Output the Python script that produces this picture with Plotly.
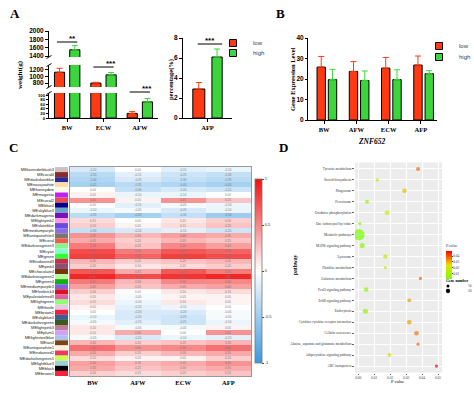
import plotly.graph_objects as go

W, H = 474, 393
def px(x): return x / W
def py(y): return 1 - y / H

RED = "#ff3a12"
GREEN = "#3cd63c"
SERIF = "Liberation Serif"
SANS = "Liberation Sans"

# ---------------- data ----------------
a_cats = ["BW", "ECW", "AFW"]
a_low = [1130, 800, 20]
a_high = [1550, 1050, 70]
a_low_err = [120, 22, 8]
a_high_err = [100, 70, 15]
a_sig = ["**", "***", "***"]

afp_cats = ["AFP"]
afp_low = [2.9]
afp_high = [6.1]
afp_low_err = [0.65]
afp_high_err = [0.8]
afp_sig = ["***"]

b_cats = ["BW", "AFW", "ECW", "AFP"]
b_low = [25.8, 23.7, 25.3, 26.8]
b_high = [19.7, 19.3, 19.7, 22.6]
b_low_err = [5.2, 4.8, 5.2, 4.4]
b_high_err = [5.0, 4.6, 4.8, 1.5]

modules = ["MElavenderblush3", "MEcoral4", "MEdarkslateblue", "MEnavajowhite", "MEhoneydew",
           "MEmagenta", "MEcoral2", "MEblue4", "MEskyblue3", "MEdarkmagenta", "MElightpink2",
           "MEslateblue", "MEmediumpurple", "MEantiquewhite4", "MEcoral", "MEdarkseagreen3",
           "MEcyan", "MEgreen", "MEindianred3", "MEpink4", "MEchocolate4", "MEdarkseagreen2",
           "MEgreen4", "MEmediumpurple3", "MEfirebrick3", "MEpalevioletred3", "MElightgreen",
           "MEthistle", "MEbrown2", "MEskyblue4", "MEdarkolivegreen", "MElightpink3", "MEplum1",
           "MElightsteelblue", "MEtan4", "MEantiquewhite1", "MEindianred2", "MEdarkolivegreen1",
           "MElightblue3", "MEblack", "MEbrown1"]
hm_cols = ["BW", "AFW", "ECW", "AFP"]
corr_bw = [-0.2, -0.35, -0.4, -0.45, 0.0, 0.05, 0.45, 0.0, -0.1, -0.35, 0.15, 0.2, -0.3, 0.45,
           0.35, 0.55, 0.75, 0.8, 0.3, 0.2, 0.7, 0.9, 0.55, 0.4, 0.2, 0.1, 0.15, 0.05, 0.0, -0.1,
           -0.05, 0.1, 0.1, -0.05, 0.3, 0.6, 0.35, 0.15, 0.4, 0.35, 0.2]
corr_afw = [0.0, -0.15, -0.2, -0.35, -0.3, -0.1, 0.05, -0.15, -0.05, -0.45, 0.0, 0.05, -0.2, 0.3,
            0.2, 0.25, 0.55, 0.65, 0.2, 0.1, 0.35, 0.75, 0.3, 0.25, 0.0, -0.05, -0.1, -0.15, -0.2,
            -0.2, -0.15, -0.05, 0.35, -0.2, 0.2, 0.45, 0.2, 0.05, 0.3, 0.25, 0.15]
corr_ecw = [-0.15, -0.25, -0.3, -0.4, -0.2, -0.1, 0.45, -0.05, -0.2, -0.3, 0.1, 0.15, -0.15, 0.4,
            0.3, 0.5, 0.7, 0.8, 0.25, 0.15, 0.7, 0.85, 0.5, 0.35, 0.1, 0.05, 0.1, -0.1, -0.2,
            -0.25, -0.25, -0.05, 0.0, -0.1, 0.25, 0.5, 0.3, 0.05, 0.35, 0.3, 0.2]
corr_afp = [-0.1, -0.3, -0.35, -0.45, -0.25, 0.0, 0.25, -0.1, -0.1, -0.5, 0.2, 0.25, -0.25, 0.35,
            0.25, 0.4, 0.65, 0.75, 0.3, 0.2, 0.55, 0.9, 0.5, 0.4, 0.15, 0.05, 0.05, 0.0, -0.05,
            -0.05, -0.1, 0.05, 0.45, -0.15, 0.3, 0.6, 0.35, 0.2, 0.45, 0.35, 0.25]

pathways = ["Tyrosine metabolism", "Steroid biosynthesis", "Phagosome", "Peroxisome",
            "Oxidative phosphorylation", "One carbon pool by folate", "Metabolic pathways",
            "MAPK signaling pathway", "Lysosome", "Histidine metabolism", "Galactose metabolism",
            "FoxO signaling pathway", "ErbB signaling pathway", "Endocytosis",
            "Cytokine-cytokine receptor interaction", "Cellular senescence",
            "Alanine, aspartate and glutamate metabolism", "Adipocytokine signaling pathway",
            "ABC transporters"]
pvals = [0.0375, 0.012, 0.029, 0.0055, 0.018, 0.001, 0.0005, 0.0025, 0.017, 0.017, 0.039,
         0.005, 0.032, 0.0045, 0.032, 0.0365, 0.0375, 0.0195, 0.049]
gene_num = [3, 2, 4, 3, 4, 2, 25, 5, 4, 2, 2, 4, 3, 5, 4, 4, 2, 3, 2]
gene_legend = [10, 20]

# module colour names -> hex (style mapping)
MODCOL = {"lavenderblush3": "#cdc1c5", "coral4": "#8b2a2a", "darkslateblue": "#2a2a9b",
          "navajowhite": "#ffdead", "honeydew": "#fffbe0", "magenta": "#c21fff", "coral2": "#ee4a50",
          "blue4": "#00008b", "skyblue3": "#6ca6cd", "darkmagenta": "#7a10c0", "lightpink2": "#ff9ad5",
          "slateblue": "#6a4ae0", "mediumpurple": "#8a6cf0", "antiquewhite4": "#7f7370",
          "coral": "#f05a4a", "darkseagreen3": "#8cf08c", "cyan": "#80ffd0", "green": "#30ff30",
          "indianred3": "#c53050", "pink4": "#8b5070", "chocolate4": "#7a3410",
          "darkseagreen2": "#b4ff9a", "green4": "#10b010", "mediumpurple3": "#8060e0",
          "firebrick3": "#e01020", "palevioletred3": "#e060a0", "lightgreen": "#90ff70",
          "thistle": "#e8c8e8", "brown2": "#ee2040", "skyblue4": "#3a6090",
          "darkolivegreen": "#3a5a20", "lightpink3": "#c08090", "plum1": "#d0a0ff",
          "lightsteelblue": "#b0c0f0", "tan4": "#7a4510", "antiquewhite1": "#fff0e0",
          "indianred2": "#f03a5a", "darkolivegreen1": "#c8ff50", "lightblue3": "#9ad0d8",
          "black": "#000000", "brown1": "#ff2040"}
strip_colors = [MODCOL[m[2:]] for m in modules]

GENE_SIZEREF = 25 / 64.0

fig = go.Figure()

def err(arr, col):
    return dict(type="data", array=arr, arrayminus=[0] * len(arr), symmetric=False,
                color=col, thickness=1, width=3)

# ---------------- Panel A (broken axis) ----------------
for yax in ["y", "y2", "y3"]:
    fig.add_trace(go.Bar(x=a_cats, y=a_low, xaxis="x", yaxis=yax, width=0.28, offset=-0.35,
                         marker=dict(color=RED, line=dict(color="black", width=1)),
                         error_y=err(a_low_err, RED), showlegend=False))
    fig.add_trace(go.Bar(x=a_cats, y=a_high, xaxis="x", yaxis=yax, width=0.28, offset=0.07,
                         marker=dict(color=GREEN, line=dict(color="black", width=1)),
                         error_y=err(a_high_err, GREEN), showlegend=False))

# AFP
fig.add_trace(go.Bar(x=afp_cats, y=afp_low, xaxis="x4", yaxis="y4", width=0.245, offset=-0.3,
                     marker=dict(color=RED, line=dict(color="black", width=1)),
                     error_y=err(afp_low_err, RED), showlegend=False))
fig.add_trace(go.Bar(x=afp_cats, y=afp_high, xaxis="x4", yaxis="y4", width=0.21, offset=0.09,
                     marker=dict(color=GREEN, line=dict(color="black", width=1)),
                     error_y=err(afp_high_err, GREEN), showlegend=False))

# ---------------- Panel B ----------------
fig.add_trace(go.Bar(x=b_cats, y=b_low, xaxis="x5", yaxis="y5", width=0.26, offset=-0.22,
                     marker=dict(color=RED, line=dict(color="black", width=1)),
                     error_y=err(b_low_err, RED), showlegend=False))
fig.add_trace(go.Bar(x=b_cats, y=b_high, xaxis="x5", yaxis="y5", width=0.26, offset=0.13,
                     marker=dict(color=GREEN, line=dict(color="black", width=1)),
                     error_y=err(b_high_err, GREEN), showlegend=False))

# legend entries (one legend per entry to control spacing)
for lg, xa, ya, cat, nm, col in [("legend", "x4", "y4", afp_cats[0], "low", RED),
                                 ("legend4", "x4", "y4", afp_cats[0], "high", GREEN),
                                 ("legend2", "x5", "y5", b_cats[0], "low", RED),
                                 ("legend5", "x5", "y5", b_cats[0], "high", GREEN)]:
    fig.add_trace(go.Scatter(x=[cat], y=[0], xaxis=xa, yaxis=ya, mode="markers", name=nm,
                             legend=lg, hoverinfo="skip",
                             marker=dict(symbol="square", size=7, color=col,
                                         line=dict(color="black", width=1)),
                             selectedpoints=[], unselected=dict(marker=dict(opacity=0))))

# ---------------- Panel C heatmap ----------------
z = [[corr_bw[i], corr_afw[i], corr_ecw[i], corr_afp[i]] for i in range(len(modules))]
fig.add_trace(go.Bar(x=[1] * len(modules), y=modules, orientation="h", width=1,
                     marker=dict(color=strip_colors, line=dict(width=0)),
                     xaxis="x6", yaxis="y6", showlegend=False))
fig.add_trace(go.Heatmap(z=z, x=hm_cols, y=modules, xaxis="x7", yaxis="y7", zmin=-1, zmax=1,
                         colorscale=[[0, "#3a98e0"], [0.5, "#ffffff"], [1, "#ee1010"]],
                         texttemplate="%{z:.2f}", textfont=dict(size=3, color="#777", family=SANS),
                         colorbar=dict(x=px(255), xanchor="left", y=py(271), yanchor="middle",
                                       len=184 / H, thickness=7, xpad=0, ypad=0,
                                       outlinewidth=0.8, outlinecolor="#777", ticks="outside",
                                       ticklen=2, tickvals=[-1, -0.5, 0, 0.5, 1],
                                       ticktext=["-1", "-0.5", "0", "0.5", "1"],
                                       tickfont=dict(size=4, family=SANS, color="#333"))))

# ---------------- Panel D dot plot ----------------
fig.add_trace(go.Scatter(x=pvals, y=pathways, xaxis="x8", yaxis="y8", mode="markers",
                         showlegend=False,
                         marker=dict(size=gene_num, sizemode="area", sizeref=GENE_SIZEREF,
                                     sizemin=1.5, color=pvals, cmin=0.0005, cmax=0.049,
                                     colorscale=[[0, "#7cfc00"], [0.5, "#e8e000"], [1, "#ff0000"]],
                                     line=dict(width=0),
                                     colorbar=dict(x=px(446), xanchor="left", y=py(241),
                                                   yanchor="top", len=38 / H, thickness=6,
                                                   xpad=0, ypad=0, outlinewidth=0,
                                                   title=dict(text="P.value", side="top",
                                                              font=dict(size=4, family=SERIF)),
                                                   tickvals=[0.01, 0.02, 0.03, 0.04],
                                                   ticktext=["0.01", "0.02", "0.03", "0.04"],
                                                   ticklen=1,
                                                   tickfont=dict(size=3.5, family=SERIF)))))
for lg, g in zip(["legend3", "legend6"], gene_legend):
    fig.add_trace(go.Scatter(x=[pvals[0]], y=[pathways[0]], xaxis="x8", yaxis="y8",
                             mode="markers", name=str(g), legend=lg, hoverinfo="skip",
                             marker=dict(size=(g / GENE_SIZEREF) ** 0.5 * 0.6, color="black"),
                             selectedpoints=[], unselected=dict(marker=dict(opacity=0))))

# ---------------- axes ----------------
tickf = dict(size=6.5, family=SANS, color="black", weight="bold")
ax_common = dict(showline=True, linecolor="black", linewidth=1, ticks="outside", ticklen=3,
                 tickcolor="black", showgrid=False, zeroline=False, tickfont=tickf)
xcat_font = dict(size=6.5, family=SERIF, color="black", weight="bold")

def leg(x, y, size=6, family=SANS):
    return dict(x=px(x), y=py(y), xanchor="left", yanchor="middle", bgcolor="rgba(0,0,0,0)",
                font=dict(size=size, family=family), tracegroupgap=0, itemwidth=30,
                itemsizing="trace")

layout = dict(
    width=W, height=H, margin=dict(l=0, r=0, t=0, b=0, autoexpand=False),
    paper_bgcolor="white", plot_bgcolor="rgba(0,0,0,0)", barmode="overlay",
    font=dict(family=SANS),
    xaxis=dict(domain=[px(49), px(158)], anchor="y", range=[-0.5, 2.5],
               **{**ax_common, "tickfont": xcat_font}),
    yaxis=dict(domain=[py(118), py(93)], anchor="x", range=[0, 108.7],
               tickvals=[0, 20, 40, 60, 80, 100],
               **{**ax_common, "ticklen": 2,
                  "tickfont": dict(size=4.3, family=SANS, color="black", weight="bold")}),
    yaxis2=dict(domain=[py(87), py(65)], anchor="x", range=[680, 1350],
                tickvals=[800, 1000, 1200], **ax_common),
    yaxis3=dict(domain=[py(57), py(31)], anchor="x", range=[1376, 2000],
                tickvals=[1400, 1600, 1800, 2000], **ax_common),
    xaxis4=dict(domain=[px(183), px(232)], anchor="y4", range=[-0.5, 0.5],
                **{**ax_common, "tickfont": xcat_font}),
    yaxis4=dict(domain=[py(118), py(38)], anchor="x4", range=[0, 8],
                tickvals=[0, 2, 4, 6, 8], **ax_common),
    xaxis5=dict(domain=[px(308), px(437)], anchor="y5", range=[-0.5, 3.5],
                **{**ax_common, "tickfont": xcat_font}),
    yaxis5=dict(domain=[py(120), py(38)], anchor="x5", range=[0, 40],
                tickvals=[0, 10, 20, 30, 40], **{**ax_common, "ticklen": 2}),
    xaxis6=dict(domain=[px(55), px(68)], anchor="y6", range=[0, 1], showticklabels=False,
                showline=False, showgrid=False, zeroline=False, ticks=""),
    yaxis6=dict(domain=[py(376), py(167)], anchor="x6", type="category", categoryorder="array",
                categoryarray=modules, range=[len(modules) - 0.5, -0.5], showline=False,
                ticks="", showgrid=False, zeroline=False,
                tickfont=dict(size=4, family=SANS, color="#222")),
    xaxis7=dict(domain=[px(70), px(251)], anchor="y7", type="category", showline=True,
                mirror=True, linecolor="#999", linewidth=1, ticks="", showgrid=False,
                zeroline=False, tickfont=xcat_font),
    yaxis7=dict(domain=[py(376), py(167)], anchor="x7", type="category", categoryorder="array",
                categoryarray=modules, range=[len(modules) - 0.5, -0.5], showline=True,
                mirror=True, linecolor="#999", linewidth=1, showticklabels=False, ticks="",
                showgrid=False, zeroline=False),
    xaxis8=dict(domain=[px(355), px(442)], anchor="y8", range=[-0.002, 0.0525],
                tickvals=[0, 0.01, 0.02, 0.03, 0.04, 0.05],
                ticktext=["0.00", "0.01", "0.02", "0.03", "0.04", "0.05"], showline=False,
                ticks="outside", ticklen=1.5, tickcolor="#666", showgrid=True, gridcolor="white",
                gridwidth=0.6, zeroline=False, tickfont=dict(size=3.5, family=SERIF, color="#444")),
    yaxis8=dict(domain=[py(372.6), py(162.4)], anchor="x8", type="category",
                categoryorder="array", categoryarray=pathways,
                range=[len(pathways) - 0.4, -0.6], showline=False, ticks="outside", ticklen=2,
                tickcolor="#666", showgrid=True, gridcolor="white", gridwidth=0.6, zeroline=False,
                tickfont=dict(size=3.4, family=SERIF, color="#333")),
    legend=leg(213, 43),
    legend4=leg(213, 53),
    legend2=leg(419, 46),
    legend5=leg(419, 57),
    legend3=leg(428, 286, 3.5, SERIF),
    legend6=leg(428, 291, 3.5, SERIF),
)
fig.update_layout(**layout)

# panel D background
fig.add_shape(type="rect", xref="x8 domain", yref="y8 domain", x0=0, x1=1, y0=0, y1=1,
              fillcolor="#ececec", line=dict(width=0), layer="below")

# significance marks (panel A)
def cat_px(xdom0, xdom1, n, i, d):
    return px(xdom0 + (i + 0.5 + d) / n * (xdom1 - xdom0))

sig_lines_y = [42, 67, 92]
for i, s in enumerate(a_sig):
    yl = py(sig_lines_y[i])
    fig.add_shape(type="line", xref="paper", yref="paper", x0=cat_px(49, 158, 3, i, -0.28),
                  x1=cat_px(49, 158, 3, i, 0.28), y0=yl, y1=yl, line=dict(color="black", width=1))
    fig.add_annotation(x=cat_px(49, 158, 3, i, 0), y=yl, xref="paper", yref="paper", text=s,
                       showarrow=False, yanchor="bottom", yshift=-3,
                       font=dict(size=8, family=SANS, color="black", weight="bold"))
yl = py(44)
fig.add_shape(type="line", xref="paper", yref="paper", x0=cat_px(183, 232, 1, 0, -0.2),
              x1=cat_px(183, 232, 1, 0, 0.3), y0=yl, y1=yl, line=dict(color="black", width=1))
fig.add_annotation(x=cat_px(183, 232, 1, 0, 0.05), y=yl, xref="paper", yref="paper",
                   text=afp_sig[0], showarrow=False, yanchor="bottom", yshift=-3,
                   font=dict(size=8, family=SANS, color="black", weight="bold"))

# axis break marks
for yb in [57, 65, 87, 93]:
    fig.add_shape(type="line", xref="paper", yref="paper", x0=px(46.5), x1=px(51.5),
                  y0=py(yb + 1.5), y1=py(yb - 1.5), line=dict(color="black", width=1))

# titles and panel letters
def ann(text, x, y, size, family=SERIF, angle=0, weight="bold", style="normal", color="black",
        xanchor="center"):
    fig.add_annotation(x=px(x), y=py(y), xref="paper", yref="paper", text=text, showarrow=False,
                       textangle=angle, xanchor=xanchor, yanchor="middle",
                       font=dict(size=size, family=family, weight=weight, style=style,
                                 color=color))

ann("A", 15, 13, 13)
ann("B", 280, 14, 13)
ann("C", 13, 147, 13)
ann("D", 283, 147, 13)
ann("weight(g)", 20, 75, 7, angle=-90)
ann("percentage(%)", 171, 80, 6.5, angle=-90)
ann("Gene Expression Level", 293, 79, 6.5, angle=-90)
ann("ZNF652", 372, 141, 7.5, style="italic")
ann("pathway", 295, 265, 5.5, angle=-90)
ann("P value", 397, 381, 4.5, weight="normal")
ann("Gene number", 444, 281, 3.8, weight="bold", xanchor="left")

fig.write_html("out.html", config={"displayModeBar": False},
               post_script="document.body.style.margin='0px';document.body.style.padding='0px';")
